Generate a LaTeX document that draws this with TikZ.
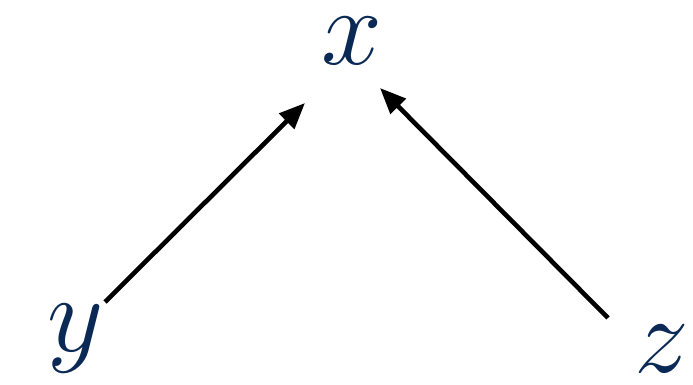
\documentclass[tikz,border=0pt]{standalone}
\usetikzlibrary{arrows.meta}
\definecolor{navy}{HTML}{0A2A55}
\begin{document}
\begin{tikzpicture}[x=0.5pt,y=-0.5pt,
  var/.style={text=navy,inner sep=0pt,anchor=base,font=\Huge,scale=2.2},
  arr/.style={line width=2.3pt,-{Triangle[length=13pt,width=10.5pt]}}]
\useasboundingbox (0,0) rectangle (693,385);
\node[var] (x) at (352,65) {$x$};
\node[var] (y) at (76,352) {$y$};
\node[var] (z) at (662,373) {$z$};
\coordinate (ys) at (105,302);
\coordinate (xl) at (305,103);
\coordinate (zs) at (608,318);
\coordinate (xr) at (380,88);
\draw[arr] (ys) -- (xl);
\draw[arr] (zs) -- (xr);
\end{tikzpicture}
\end{document}
